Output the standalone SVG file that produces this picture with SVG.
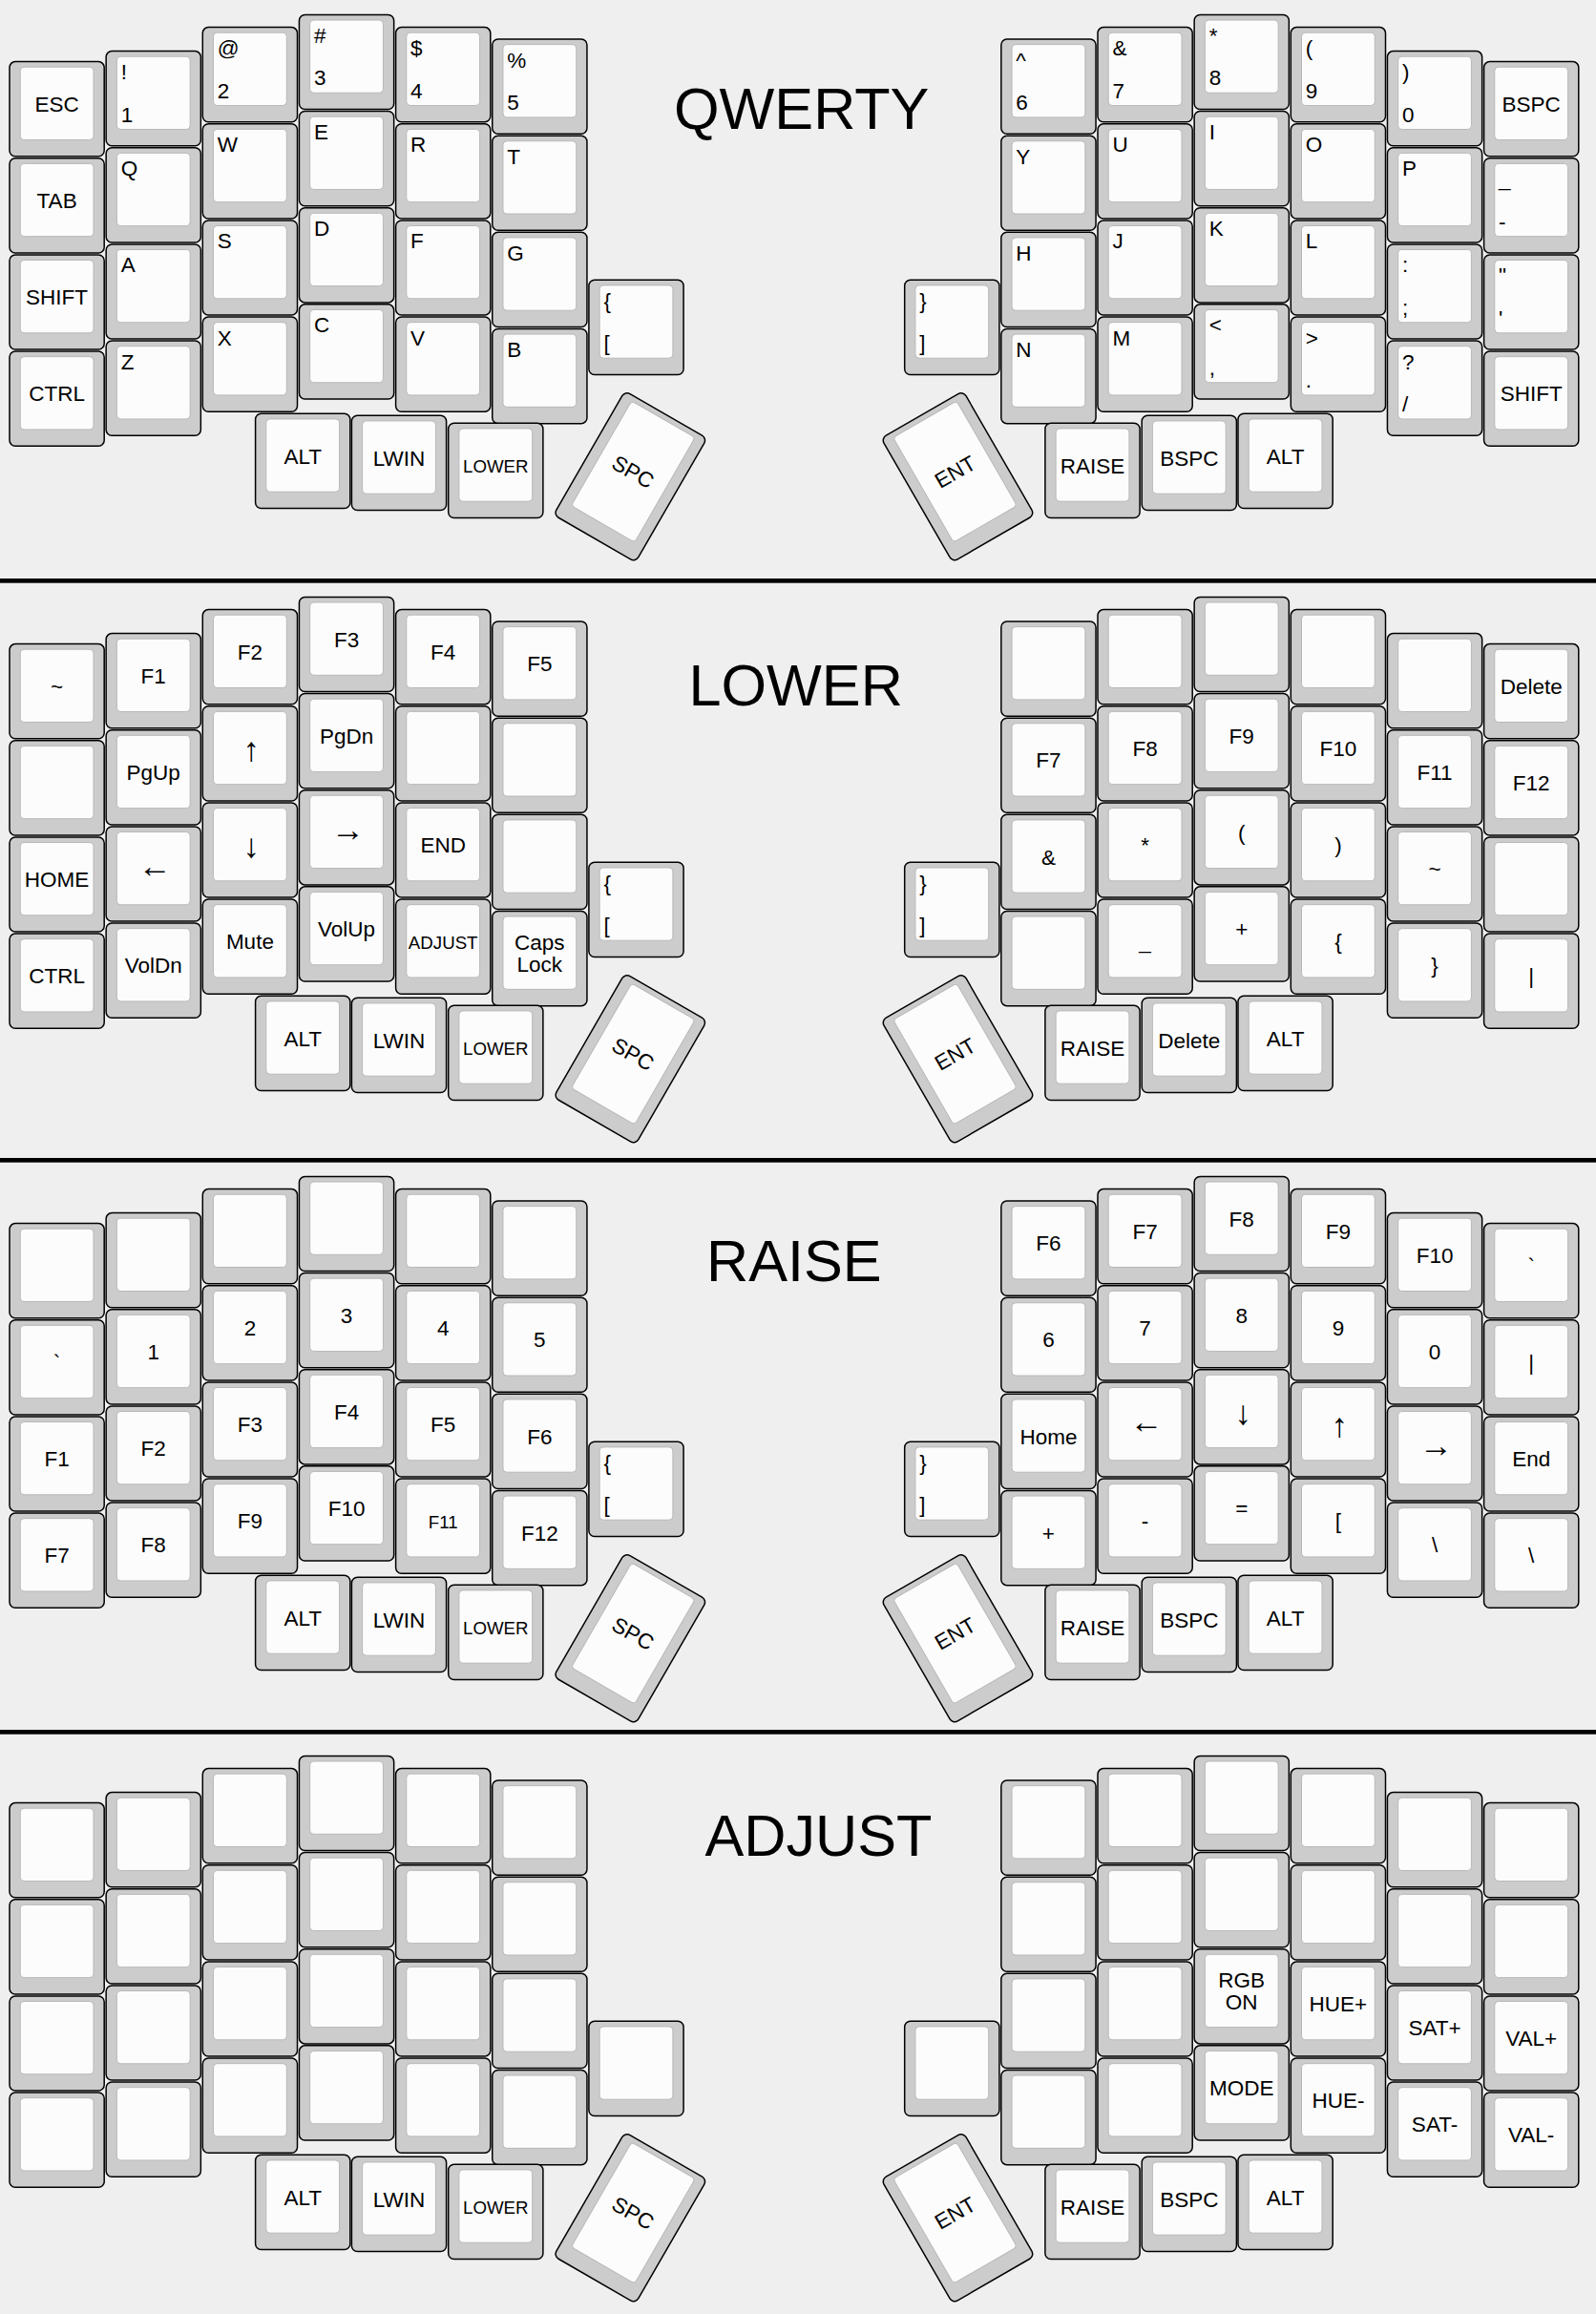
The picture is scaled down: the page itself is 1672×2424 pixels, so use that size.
<svg xmlns="http://www.w3.org/2000/svg" xmlns:xlink="http://www.w3.org/1999/xlink" width="1672" height="2424" viewBox="0 0 1672 2424">
<style>
.o{fill:#cccccc;stroke:#000;stroke-width:1.5}
.i{fill:#fcfcfc;stroke:#b8b8b8;stroke-width:1}
text{font-family:"Liberation Sans",Arial,Helvetica,sans-serif;font-size:22.5px;fill:#000;text-anchor:middle}
.l{text-anchor:start}
.s{font-size:18.7px}
.a{font-size:35px}
.ttl{font-size:61.2px;text-anchor:start}
.sep{fill:#000}
</style>
<defs>
<g id="u"><rect class="o" x="0" y="0" width="99.2" height="99.2" rx="6"/><rect class="i" x="11.2" y="5.6" width="76.8" height="76.3" rx="4"/></g>
<g id="t"><rect class="o" x="0" y="0" width="99.2" height="149.8" rx="6"/><rect class="i" x="11.2" y="5.6" width="76.8" height="126.7" rx="4"/></g>
</defs>
<rect x="0" y="0" width="1672" height="2424" fill="#efefef"/>
<g id="separators">
<rect class="sep" x="0" y="606" width="1672" height="4.7"/>
<rect class="sep" x="0" y="1213" width="1672" height="4.7"/>
<rect class="sep" x="0" y="1812" width="1672" height="4.7"/>
</g>

<g id="qwerty">
<text class="ttl" x="706" y="134.5">QWERTY</text>
<g id="q-l0-0" transform="translate(10 64.6)"><use href="#u"/><text x="49.6" y="52.3">ESC</text></g>
<g id="q-l0-1" transform="translate(10 165.75)"><use href="#u"/><text x="49.6" y="52.3">TAB</text></g>
<g id="q-l0-2" transform="translate(10 266.9)"><use href="#u"/><text x="49.6" y="52.3">SHIFT</text></g>
<g id="q-l0-3" transform="translate(10 368.05)"><use href="#u"/><text x="49.6" y="52.3">CTRL</text></g>
<g id="q-l1-0" transform="translate(111.15 53.6)"><use href="#u"/><text class="l" x="15.5" y="29.5">!</text><text class="l" x="15.5" y="74">1</text></g>
<g id="q-l1-1" transform="translate(111.15 154.75)"><use href="#u"/><text class="l" x="15.5" y="29.5">Q</text></g>
<g id="q-l1-2" transform="translate(111.15 255.9)"><use href="#u"/><text class="l" x="15.5" y="29.5">A</text></g>
<g id="q-l1-3" transform="translate(111.15 357.05)"><use href="#u"/><text class="l" x="15.5" y="29.5">Z</text></g>
<g id="q-l2-0" transform="translate(212.3 28.6)"><use href="#u"/><text class="l" x="15.5" y="29.5">@</text><text class="l" x="15.5" y="74">2</text></g>
<g id="q-l2-1" transform="translate(212.3 129.75)"><use href="#u"/><text class="l" x="15.5" y="29.5">W</text></g>
<g id="q-l2-2" transform="translate(212.3 230.9)"><use href="#u"/><text class="l" x="15.5" y="29.5">S</text></g>
<g id="q-l2-3" transform="translate(212.3 332.05)"><use href="#u"/><text class="l" x="15.5" y="29.5">X</text></g>
<g id="q-l3-0" transform="translate(313.45 15.4)"><use href="#u"/><text class="l" x="15.5" y="29.5">#</text><text class="l" x="15.5" y="74">3</text></g>
<g id="q-l3-1" transform="translate(313.45 116.55)"><use href="#u"/><text class="l" x="15.5" y="29.5">E</text></g>
<g id="q-l3-2" transform="translate(313.45 217.7)"><use href="#u"/><text class="l" x="15.5" y="29.5">D</text></g>
<g id="q-l3-3" transform="translate(313.45 318.85)"><use href="#u"/><text class="l" x="15.5" y="29.5">C</text></g>
<g id="q-l4-0" transform="translate(414.6 28.6)"><use href="#u"/><text class="l" x="15.5" y="29.5">$</text><text class="l" x="15.5" y="74">4</text></g>
<g id="q-l4-1" transform="translate(414.6 129.75)"><use href="#u"/><text class="l" x="15.5" y="29.5">R</text></g>
<g id="q-l4-2" transform="translate(414.6 230.9)"><use href="#u"/><text class="l" x="15.5" y="29.5">F</text></g>
<g id="q-l4-3" transform="translate(414.6 332.05)"><use href="#u"/><text class="l" x="15.5" y="29.5">V</text></g>
<g id="q-l5-0" transform="translate(515.75 41)"><use href="#u"/><text class="l" x="15.5" y="29.5">%</text><text class="l" x="15.5" y="74">5</text></g>
<g id="q-l5-1" transform="translate(515.75 142.15)"><use href="#u"/><text class="l" x="15.5" y="29.5">T</text></g>
<g id="q-l5-2" transform="translate(515.75 243.3)"><use href="#u"/><text class="l" x="15.5" y="29.5">G</text></g>
<g id="q-l5-3" transform="translate(515.75 344.45)"><use href="#u"/><text class="l" x="15.5" y="29.5">B</text></g>
<g id="q-l6" transform="translate(616.9 293.3)"><use href="#u"/><text class="l" x="15.5" y="29.5">{</text><text class="l" x="15.5" y="74">[</text></g>
<g id="q-lalt" transform="translate(267.6 433.3)"><use href="#u"/><text x="49.6" y="52.3">ALT</text></g>
<g id="q-lwin" transform="translate(368.4 435.3)"><use href="#u"/><text x="49.6" y="52.3">LWIN</text></g>
<g id="q-lower" transform="translate(469.7 443.3)"><use href="#u"/><text class="s" x="49.6" y="51.5">LOWER</text></g>
<g id="q-spc" transform="translate(660.3 499.2) rotate(30) translate(-49.6 -74.9)"><use href="#t"/><text x="49.6" y="77">SPC</text></g>
<g id="q-r6" transform="translate(947.7 293.3)"><use href="#u"/><text class="l" x="15.5" y="29.5">}</text><text class="l" x="15.5" y="74">]</text></g>
<g id="q-r5-0" transform="translate(1048.85 41)"><use href="#u"/><text class="l" x="15.5" y="29.5">^</text><text class="l" x="15.5" y="74">6</text></g>
<g id="q-r5-1" transform="translate(1048.85 142.15)"><use href="#u"/><text class="l" x="15.5" y="29.5">Y</text></g>
<g id="q-r5-2" transform="translate(1048.85 243.3)"><use href="#u"/><text class="l" x="15.5" y="29.5">H</text></g>
<g id="q-r5-3" transform="translate(1048.85 344.45)"><use href="#u"/><text class="l" x="15.5" y="29.5">N</text></g>
<g id="q-r4-0" transform="translate(1150 28.6)"><use href="#u"/><text class="l" x="15.5" y="29.5">&amp;</text><text class="l" x="15.5" y="74">7</text></g>
<g id="q-r4-1" transform="translate(1150 129.75)"><use href="#u"/><text class="l" x="15.5" y="29.5">U</text></g>
<g id="q-r4-2" transform="translate(1150 230.9)"><use href="#u"/><text class="l" x="15.5" y="29.5">J</text></g>
<g id="q-r4-3" transform="translate(1150 332.05)"><use href="#u"/><text class="l" x="15.5" y="29.5">M</text></g>
<g id="q-r3-0" transform="translate(1251.15 15.4)"><use href="#u"/><text class="l" x="15.5" y="29.5">*</text><text class="l" x="15.5" y="74">8</text></g>
<g id="q-r3-1" transform="translate(1251.15 116.55)"><use href="#u"/><text class="l" x="15.5" y="29.5">I</text></g>
<g id="q-r3-2" transform="translate(1251.15 217.7)"><use href="#u"/><text class="l" x="15.5" y="29.5">K</text></g>
<g id="q-r3-3" transform="translate(1251.15 318.85)"><use href="#u"/><text class="l" x="15.5" y="29.5">&lt;</text><text class="l" x="15.5" y="74">,</text></g>
<g id="q-r2-0" transform="translate(1352.3 28.6)"><use href="#u"/><text class="l" x="15.5" y="29.5">(</text><text class="l" x="15.5" y="74">9</text></g>
<g id="q-r2-1" transform="translate(1352.3 129.75)"><use href="#u"/><text class="l" x="15.5" y="29.5">O</text></g>
<g id="q-r2-2" transform="translate(1352.3 230.9)"><use href="#u"/><text class="l" x="15.5" y="29.5">L</text></g>
<g id="q-r2-3" transform="translate(1352.3 332.05)"><use href="#u"/><text class="l" x="15.5" y="29.5">&gt;</text><text class="l" x="15.5" y="74">.</text></g>
<g id="q-r1-0" transform="translate(1453.45 53.6)"><use href="#u"/><text class="l" x="15.5" y="29.5">)</text><text class="l" x="15.5" y="74">0</text></g>
<g id="q-r1-1" transform="translate(1453.45 154.75)"><use href="#u"/><text class="l" x="15.5" y="29.5">P</text></g>
<g id="q-r1-2" transform="translate(1453.45 255.9)"><use href="#u"/><text class="l" x="15.5" y="29.5">:</text><text class="l" x="15.5" y="74">;</text></g>
<g id="q-r1-3" transform="translate(1453.45 357.05)"><use href="#u"/><text class="l" x="15.5" y="29.5">?</text><text class="l" x="15.5" y="74">/</text></g>
<g id="q-r0-0" transform="translate(1554.6 64.6)"><use href="#u"/><text x="49.6" y="52.3">BSPC</text></g>
<g id="q-r0-1" transform="translate(1554.6 165.75)"><use href="#u"/><text class="l" x="15.5" y="29.5">_</text><text class="l" x="15.5" y="74">-</text></g>
<g id="q-r0-2" transform="translate(1554.6 266.9)"><use href="#u"/><text class="l" x="15.5" y="29.5">"</text><text class="l" x="15.5" y="74">'</text></g>
<g id="q-r0-3" transform="translate(1554.6 368.05)"><use href="#u"/><text x="49.6" y="52.3">SHIFT</text></g>
<g id="q-ent" transform="translate(1003.5 499.2) rotate(-30) translate(-49.6 -74.9)"><use href="#t"/><text x="49.6" y="77">ENT</text></g>
<g id="q-raise" transform="translate(1094.9 443.3)"><use href="#u"/><text x="49.6" y="52.3">RAISE</text></g>
<g id="q-rbspc" transform="translate(1196.2 435.3)"><use href="#u"/><text x="49.6" y="52.3">BSPC</text></g>
<g id="q-ralt" transform="translate(1297 433.3)"><use href="#u"/><text x="49.6" y="52.3">ALT</text></g>
</g>

<g id="lower" transform="translate(0 610)">
<text class="ttl" x="721.5" y="129">LOWER</text>
<g id="lo-l0-0" transform="translate(10 64.6)"><use href="#u"/><text x="49.6" y="52.3">~</text></g>
<g id="lo-l0-1" transform="translate(10 165.75)"><use href="#u"/></g>
<g id="lo-l0-2" transform="translate(10 266.9)"><use href="#u"/><text x="49.6" y="52.3">HOME</text></g>
<g id="lo-l0-3" transform="translate(10 368.05)"><use href="#u"/><text x="49.6" y="52.3">CTRL</text></g>
<g id="lo-l1-0" transform="translate(111.15 53.6)"><use href="#u"/><text x="49.6" y="52.3">F1</text></g>
<g id="lo-l1-1" transform="translate(111.15 154.75)"><use href="#u"/><text x="49.6" y="52.3">PgUp</text></g>
<g id="lo-l1-2" transform="translate(111.15 255.9)"><use href="#u"/><text class="a" x="51" y="53.5">←</text></g>
<g id="lo-l1-3" transform="translate(111.15 357.05)"><use href="#u"/><text x="49.6" y="52.3">VolDn</text></g>
<g id="lo-l2-0" transform="translate(212.3 28.6)"><use href="#u"/><text x="49.6" y="52.3">F2</text></g>
<g id="lo-l2-1" transform="translate(212.3 129.75)"><use href="#u"/><text class="a" x="51" y="57">↑</text></g>
<g id="lo-l2-2" transform="translate(212.3 230.9)"><use href="#u"/><text class="a" x="51" y="57">↓</text></g>
<g id="lo-l2-3" transform="translate(212.3 332.05)"><use href="#u"/><text x="49.6" y="52.3">Mute</text></g>
<g id="lo-l3-0" transform="translate(313.45 15.4)"><use href="#u"/><text x="49.6" y="52.3">F3</text></g>
<g id="lo-l3-1" transform="translate(313.45 116.55)"><use href="#u"/><text x="49.6" y="52.3">PgDn</text></g>
<g id="lo-l3-2" transform="translate(313.45 217.7)"><use href="#u"/><text class="a" x="51" y="53.5">→</text></g>
<g id="lo-l3-3" transform="translate(313.45 318.85)"><use href="#u"/><text x="49.6" y="52.3">VolUp</text></g>
<g id="lo-l4-0" transform="translate(414.6 28.6)"><use href="#u"/><text x="49.6" y="52.3">F4</text></g>
<g id="lo-l4-1" transform="translate(414.6 129.75)"><use href="#u"/></g>
<g id="lo-l4-2" transform="translate(414.6 230.9)"><use href="#u"/><text x="49.6" y="52.3">END</text></g>
<g id="lo-l4-3" transform="translate(414.6 332.05)"><use href="#u"/><text class="s" x="49.6" y="51.5">ADJUST</text></g>
<g id="lo-l5-0" transform="translate(515.75 41)"><use href="#u"/><text x="49.6" y="52.3">F5</text></g>
<g id="lo-l5-1" transform="translate(515.75 142.15)"><use href="#u"/></g>
<g id="lo-l5-2" transform="translate(515.75 243.3)"><use href="#u"/></g>
<g id="lo-l5-3" transform="translate(515.75 344.45)"><use href="#u"/><text x="49.6" y="40.5">Caps</text><text x="49.6" y="63.5">Lock</text></g>
<g id="lo-l6" transform="translate(616.9 293.3)"><use href="#u"/><text class="l" x="15.5" y="29.5">{</text><text class="l" x="15.5" y="74">[</text></g>
<g id="lo-lalt" transform="translate(267.6 433.3)"><use href="#u"/><text x="49.6" y="52.3">ALT</text></g>
<g id="lo-lwin" transform="translate(368.4 435.3)"><use href="#u"/><text x="49.6" y="52.3">LWIN</text></g>
<g id="lo-lower" transform="translate(469.7 443.3)"><use href="#u"/><text class="s" x="49.6" y="51.5">LOWER</text></g>
<g id="lo-spc" transform="translate(660.3 499.2) rotate(30) translate(-49.6 -74.9)"><use href="#t"/><text x="49.6" y="77">SPC</text></g>
<g id="lo-r6" transform="translate(947.7 293.3)"><use href="#u"/><text class="l" x="15.5" y="29.5">}</text><text class="l" x="15.5" y="74">]</text></g>
<g id="lo-r5-0" transform="translate(1048.85 41)"><use href="#u"/></g>
<g id="lo-r5-1" transform="translate(1048.85 142.15)"><use href="#u"/><text x="49.6" y="52.3">F7</text></g>
<g id="lo-r5-2" transform="translate(1048.85 243.3)"><use href="#u"/><text x="49.6" y="52.3">&amp;</text></g>
<g id="lo-r5-3" transform="translate(1048.85 344.45)"><use href="#u"/></g>
<g id="lo-r4-0" transform="translate(1150 28.6)"><use href="#u"/></g>
<g id="lo-r4-1" transform="translate(1150 129.75)"><use href="#u"/><text x="49.6" y="52.3">F8</text></g>
<g id="lo-r4-2" transform="translate(1150 230.9)"><use href="#u"/><text x="49.6" y="52.3">*</text></g>
<g id="lo-r4-3" transform="translate(1150 332.05)"><use href="#u"/><text x="49.6" y="52.3">_</text></g>
<g id="lo-r3-0" transform="translate(1251.15 15.4)"><use href="#u"/></g>
<g id="lo-r3-1" transform="translate(1251.15 116.55)"><use href="#u"/><text x="49.6" y="52.3">F9</text></g>
<g id="lo-r3-2" transform="translate(1251.15 217.7)"><use href="#u"/><text x="49.6" y="52.3">(</text></g>
<g id="lo-r3-3" transform="translate(1251.15 318.85)"><use href="#u"/><text x="49.6" y="52.3">+</text></g>
<g id="lo-r2-0" transform="translate(1352.3 28.6)"><use href="#u"/></g>
<g id="lo-r2-1" transform="translate(1352.3 129.75)"><use href="#u"/><text x="49.6" y="52.3">F10</text></g>
<g id="lo-r2-2" transform="translate(1352.3 230.9)"><use href="#u"/><text x="49.6" y="52.3">)</text></g>
<g id="lo-r2-3" transform="translate(1352.3 332.05)"><use href="#u"/><text x="49.6" y="52.3">{</text></g>
<g id="lo-r1-0" transform="translate(1453.45 53.6)"><use href="#u"/></g>
<g id="lo-r1-1" transform="translate(1453.45 154.75)"><use href="#u"/><text x="49.6" y="52.3">F11</text></g>
<g id="lo-r1-2" transform="translate(1453.45 255.9)"><use href="#u"/><text x="49.6" y="52.3">~</text></g>
<g id="lo-r1-3" transform="translate(1453.45 357.05)"><use href="#u"/><text x="49.6" y="52.3">}</text></g>
<g id="lo-r0-0" transform="translate(1554.6 64.6)"><use href="#u"/><text x="49.6" y="52.3">Delete</text></g>
<g id="lo-r0-1" transform="translate(1554.6 165.75)"><use href="#u"/><text x="49.6" y="52.3">F12</text></g>
<g id="lo-r0-2" transform="translate(1554.6 266.9)"><use href="#u"/></g>
<g id="lo-r0-3" transform="translate(1554.6 368.05)"><use href="#u"/><text x="49.6" y="52.3">|</text></g>
<g id="lo-ent" transform="translate(1003.5 499.2) rotate(-30) translate(-49.6 -74.9)"><use href="#t"/><text x="49.6" y="77">ENT</text></g>
<g id="lo-raise" transform="translate(1094.9 443.3)"><use href="#u"/><text x="49.6" y="52.3">RAISE</text></g>
<g id="lo-rdel" transform="translate(1196.2 435.3)"><use href="#u"/><text x="49.6" y="52.3">Delete</text></g>
<g id="lo-ralt" transform="translate(1297 433.3)"><use href="#u"/><text x="49.6" y="52.3">ALT</text></g>
</g>

<g id="raise" transform="translate(0 1217)">
<text class="ttl" x="740" y="125">RAISE</text>
<g id="ra-l0-0" transform="translate(10 64.6)"><use href="#u"/></g>
<g id="ra-l0-1" transform="translate(10 165.75)"><use href="#u"/><text x="49.6" y="52.3">`</text></g>
<g id="ra-l0-2" transform="translate(10 266.9)"><use href="#u"/><text x="49.6" y="52.3">F1</text></g>
<g id="ra-l0-3" transform="translate(10 368.05)"><use href="#u"/><text x="49.6" y="52.3">F7</text></g>
<g id="ra-l1-0" transform="translate(111.15 53.6)"><use href="#u"/></g>
<g id="ra-l1-1" transform="translate(111.15 154.75)"><use href="#u"/><text x="49.6" y="52.3">1</text></g>
<g id="ra-l1-2" transform="translate(111.15 255.9)"><use href="#u"/><text x="49.6" y="52.3">F2</text></g>
<g id="ra-l1-3" transform="translate(111.15 357.05)"><use href="#u"/><text x="49.6" y="52.3">F8</text></g>
<g id="ra-l2-0" transform="translate(212.3 28.6)"><use href="#u"/></g>
<g id="ra-l2-1" transform="translate(212.3 129.75)"><use href="#u"/><text x="49.6" y="52.3">2</text></g>
<g id="ra-l2-2" transform="translate(212.3 230.9)"><use href="#u"/><text x="49.6" y="52.3">F3</text></g>
<g id="ra-l2-3" transform="translate(212.3 332.05)"><use href="#u"/><text x="49.6" y="52.3">F9</text></g>
<g id="ra-l3-0" transform="translate(313.45 15.4)"><use href="#u"/></g>
<g id="ra-l3-1" transform="translate(313.45 116.55)"><use href="#u"/><text x="49.6" y="52.3">3</text></g>
<g id="ra-l3-2" transform="translate(313.45 217.7)"><use href="#u"/><text x="49.6" y="52.3">F4</text></g>
<g id="ra-l3-3" transform="translate(313.45 318.85)"><use href="#u"/><text x="49.6" y="52.3">F10</text></g>
<g id="ra-l4-0" transform="translate(414.6 28.6)"><use href="#u"/></g>
<g id="ra-l4-1" transform="translate(414.6 129.75)"><use href="#u"/><text x="49.6" y="52.3">4</text></g>
<g id="ra-l4-2" transform="translate(414.6 230.9)"><use href="#u"/><text x="49.6" y="52.3">F5</text></g>
<g id="ra-l4-3" transform="translate(414.6 332.05)"><use href="#u"/><text class="s" x="49.6" y="51.5">F11</text></g>
<g id="ra-l5-0" transform="translate(515.75 41)"><use href="#u"/></g>
<g id="ra-l5-1" transform="translate(515.75 142.15)"><use href="#u"/><text x="49.6" y="52.3">5</text></g>
<g id="ra-l5-2" transform="translate(515.75 243.3)"><use href="#u"/><text x="49.6" y="52.3">F6</text></g>
<g id="ra-l5-3" transform="translate(515.75 344.45)"><use href="#u"/><text x="49.6" y="52.3">F12</text></g>
<g id="ra-l6" transform="translate(616.9 293.3)"><use href="#u"/><text class="l" x="15.5" y="29.5">{</text><text class="l" x="15.5" y="74">[</text></g>
<g id="ra-lalt" transform="translate(267.6 433.3)"><use href="#u"/><text x="49.6" y="52.3">ALT</text></g>
<g id="ra-lwin" transform="translate(368.4 435.3)"><use href="#u"/><text x="49.6" y="52.3">LWIN</text></g>
<g id="ra-lower" transform="translate(469.7 443.3)"><use href="#u"/><text class="s" x="49.6" y="51.5">LOWER</text></g>
<g id="ra-spc" transform="translate(660.3 499.2) rotate(30) translate(-49.6 -74.9)"><use href="#t"/><text x="49.6" y="77">SPC</text></g>
<g id="ra-r6" transform="translate(947.7 293.3)"><use href="#u"/><text class="l" x="15.5" y="29.5">}</text><text class="l" x="15.5" y="74">]</text></g>
<g id="ra-r5-0" transform="translate(1048.85 41)"><use href="#u"/><text x="49.6" y="52.3">F6</text></g>
<g id="ra-r5-1" transform="translate(1048.85 142.15)"><use href="#u"/><text x="49.6" y="52.3">6</text></g>
<g id="ra-r5-2" transform="translate(1048.85 243.3)"><use href="#u"/><text x="49.6" y="52.3">Home</text></g>
<g id="ra-r5-3" transform="translate(1048.85 344.45)"><use href="#u"/><text x="49.6" y="52.3">+</text></g>
<g id="ra-r4-0" transform="translate(1150 28.6)"><use href="#u"/><text x="49.6" y="52.3">F7</text></g>
<g id="ra-r4-1" transform="translate(1150 129.75)"><use href="#u"/><text x="49.6" y="52.3">7</text></g>
<g id="ra-r4-2" transform="translate(1150 230.9)"><use href="#u"/><text class="a" x="51" y="53.5">←</text></g>
<g id="ra-r4-3" transform="translate(1150 332.05)"><use href="#u"/><text x="49.6" y="52.3">-</text></g>
<g id="ra-r3-0" transform="translate(1251.15 15.4)"><use href="#u"/><text x="49.6" y="52.3">F8</text></g>
<g id="ra-r3-1" transform="translate(1251.15 116.55)"><use href="#u"/><text x="49.6" y="52.3">8</text></g>
<g id="ra-r3-2" transform="translate(1251.15 217.7)"><use href="#u"/><text class="a" x="51" y="57">↓</text></g>
<g id="ra-r3-3" transform="translate(1251.15 318.85)"><use href="#u"/><text x="49.6" y="52.3">=</text></g>
<g id="ra-r2-0" transform="translate(1352.3 28.6)"><use href="#u"/><text x="49.6" y="52.3">F9</text></g>
<g id="ra-r2-1" transform="translate(1352.3 129.75)"><use href="#u"/><text x="49.6" y="52.3">9</text></g>
<g id="ra-r2-2" transform="translate(1352.3 230.9)"><use href="#u"/><text class="a" x="51" y="57">↑</text></g>
<g id="ra-r2-3" transform="translate(1352.3 332.05)"><use href="#u"/><text x="49.6" y="52.3">[</text></g>
<g id="ra-r1-0" transform="translate(1453.45 53.6)"><use href="#u"/><text x="49.6" y="52.3">F10</text></g>
<g id="ra-r1-1" transform="translate(1453.45 154.75)"><use href="#u"/><text x="49.6" y="52.3">0</text></g>
<g id="ra-r1-2" transform="translate(1453.45 255.9)"><use href="#u"/><text class="a" x="51" y="53.5">→</text></g>
<g id="ra-r1-3" transform="translate(1453.45 357.05)"><use href="#u"/><text x="49.6" y="52.3">\</text></g>
<g id="ra-r0-0" transform="translate(1554.6 64.6)"><use href="#u"/><text x="49.6" y="52.3">`</text></g>
<g id="ra-r0-1" transform="translate(1554.6 165.75)"><use href="#u"/><text x="49.6" y="52.3">|</text></g>
<g id="ra-r0-2" transform="translate(1554.6 266.9)"><use href="#u"/><text x="49.6" y="52.3">End</text></g>
<g id="ra-r0-3" transform="translate(1554.6 368.05)"><use href="#u"/><text x="49.6" y="52.3">\</text></g>
<g id="ra-ent" transform="translate(1003.5 499.2) rotate(-30) translate(-49.6 -74.9)"><use href="#t"/><text x="49.6" y="77">ENT</text></g>
<g id="ra-raise" transform="translate(1094.9 443.3)"><use href="#u"/><text x="49.6" y="52.3">RAISE</text></g>
<g id="ra-rbspc" transform="translate(1196.2 435.3)"><use href="#u"/><text x="49.6" y="52.3">BSPC</text></g>
<g id="ra-ralt" transform="translate(1297 433.3)"><use href="#u"/><text x="49.6" y="52.3">ALT</text></g>
</g>

<g id="adjust" transform="translate(0 1824)">
<text class="ttl" x="738.5" y="120">ADJUST</text>
<g id="ad-l0-0" transform="translate(10 64.6)"><use href="#u"/></g>
<g id="ad-l0-1" transform="translate(10 165.75)"><use href="#u"/></g>
<g id="ad-l0-2" transform="translate(10 266.9)"><use href="#u"/></g>
<g id="ad-l0-3" transform="translate(10 368.05)"><use href="#u"/></g>
<g id="ad-l1-0" transform="translate(111.15 53.6)"><use href="#u"/></g>
<g id="ad-l1-1" transform="translate(111.15 154.75)"><use href="#u"/></g>
<g id="ad-l1-2" transform="translate(111.15 255.9)"><use href="#u"/></g>
<g id="ad-l1-3" transform="translate(111.15 357.05)"><use href="#u"/></g>
<g id="ad-l2-0" transform="translate(212.3 28.6)"><use href="#u"/></g>
<g id="ad-l2-1" transform="translate(212.3 129.75)"><use href="#u"/></g>
<g id="ad-l2-2" transform="translate(212.3 230.9)"><use href="#u"/></g>
<g id="ad-l2-3" transform="translate(212.3 332.05)"><use href="#u"/></g>
<g id="ad-l3-0" transform="translate(313.45 15.4)"><use href="#u"/></g>
<g id="ad-l3-1" transform="translate(313.45 116.55)"><use href="#u"/></g>
<g id="ad-l3-2" transform="translate(313.45 217.7)"><use href="#u"/></g>
<g id="ad-l3-3" transform="translate(313.45 318.85)"><use href="#u"/></g>
<g id="ad-l4-0" transform="translate(414.6 28.6)"><use href="#u"/></g>
<g id="ad-l4-1" transform="translate(414.6 129.75)"><use href="#u"/></g>
<g id="ad-l4-2" transform="translate(414.6 230.9)"><use href="#u"/></g>
<g id="ad-l4-3" transform="translate(414.6 332.05)"><use href="#u"/></g>
<g id="ad-l5-0" transform="translate(515.75 41)"><use href="#u"/></g>
<g id="ad-l5-1" transform="translate(515.75 142.15)"><use href="#u"/></g>
<g id="ad-l5-2" transform="translate(515.75 243.3)"><use href="#u"/></g>
<g id="ad-l5-3" transform="translate(515.75 344.45)"><use href="#u"/></g>
<g id="ad-l6" transform="translate(616.9 293.3)"><use href="#u"/></g>
<g id="ad-lalt" transform="translate(267.6 433.3)"><use href="#u"/><text x="49.6" y="52.3">ALT</text></g>
<g id="ad-lwin" transform="translate(368.4 435.3)"><use href="#u"/><text x="49.6" y="52.3">LWIN</text></g>
<g id="ad-lower" transform="translate(469.7 443.3)"><use href="#u"/><text class="s" x="49.6" y="51.5">LOWER</text></g>
<g id="ad-spc" transform="translate(660.3 499.2) rotate(30) translate(-49.6 -74.9)"><use href="#t"/><text x="49.6" y="77">SPC</text></g>
<g id="ad-r6" transform="translate(947.7 293.3)"><use href="#u"/></g>
<g id="ad-r5-0" transform="translate(1048.85 41)"><use href="#u"/></g>
<g id="ad-r5-1" transform="translate(1048.85 142.15)"><use href="#u"/></g>
<g id="ad-r5-2" transform="translate(1048.85 243.3)"><use href="#u"/></g>
<g id="ad-r5-3" transform="translate(1048.85 344.45)"><use href="#u"/></g>
<g id="ad-r4-0" transform="translate(1150 28.6)"><use href="#u"/></g>
<g id="ad-r4-1" transform="translate(1150 129.75)"><use href="#u"/></g>
<g id="ad-r4-2" transform="translate(1150 230.9)"><use href="#u"/></g>
<g id="ad-r4-3" transform="translate(1150 332.05)"><use href="#u"/></g>
<g id="ad-r3-0" transform="translate(1251.15 15.4)"><use href="#u"/></g>
<g id="ad-r3-1" transform="translate(1251.15 116.55)"><use href="#u"/></g>
<g id="ad-r3-2" transform="translate(1251.15 217.7)"><use href="#u"/><text x="49.6" y="40.5">RGB</text><text x="49.6" y="63.5">ON</text></g>
<g id="ad-r3-3" transform="translate(1251.15 318.85)"><use href="#u"/><text x="49.6" y="52.3">MODE</text></g>
<g id="ad-r2-0" transform="translate(1352.3 28.6)"><use href="#u"/></g>
<g id="ad-r2-1" transform="translate(1352.3 129.75)"><use href="#u"/></g>
<g id="ad-r2-2" transform="translate(1352.3 230.9)"><use href="#u"/><text x="49.6" y="52.3">HUE+</text></g>
<g id="ad-r2-3" transform="translate(1352.3 332.05)"><use href="#u"/><text x="49.6" y="52.3">HUE-</text></g>
<g id="ad-r1-0" transform="translate(1453.45 53.6)"><use href="#u"/></g>
<g id="ad-r1-1" transform="translate(1453.45 154.75)"><use href="#u"/></g>
<g id="ad-r1-2" transform="translate(1453.45 255.9)"><use href="#u"/><text x="49.6" y="52.3">SAT+</text></g>
<g id="ad-r1-3" transform="translate(1453.45 357.05)"><use href="#u"/><text x="49.6" y="52.3">SAT-</text></g>
<g id="ad-r0-0" transform="translate(1554.6 64.6)"><use href="#u"/></g>
<g id="ad-r0-1" transform="translate(1554.6 165.75)"><use href="#u"/></g>
<g id="ad-r0-2" transform="translate(1554.6 266.9)"><use href="#u"/><text x="49.6" y="52.3">VAL+</text></g>
<g id="ad-r0-3" transform="translate(1554.6 368.05)"><use href="#u"/><text x="49.6" y="52.3">VAL-</text></g>
<g id="ad-ent" transform="translate(1003.5 499.2) rotate(-30) translate(-49.6 -74.9)"><use href="#t"/><text x="49.6" y="77">ENT</text></g>
<g id="ad-raise" transform="translate(1094.9 443.3)"><use href="#u"/><text x="49.6" y="52.3">RAISE</text></g>
<g id="ad-rbspc" transform="translate(1196.2 435.3)"><use href="#u"/><text x="49.6" y="52.3">BSPC</text></g>
<g id="ad-ralt" transform="translate(1297 433.3)"><use href="#u"/><text x="49.6" y="52.3">ALT</text></g>
</g>
</svg>
